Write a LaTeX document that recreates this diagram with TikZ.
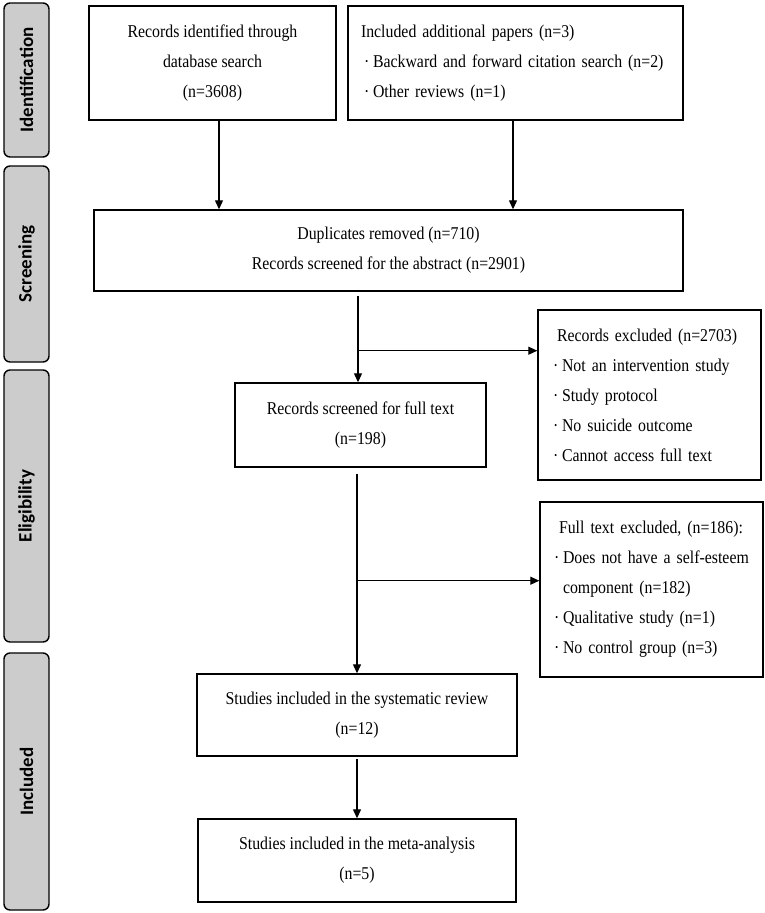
\documentclass[tikz,border=0pt]{standalone}
\usepackage{fontspec}
\setmainfont{Liberation Serif}[FakeStretch=0.88]
\newfontfamily\lblfont{Carlito}
\usetikzlibrary{arrows.meta,calc}
\newcommand\bul{\makebox[9pt][l]{·}}
\begin{document}
\begin{tikzpicture}[x=1pt,y=-1pt,
  box/.style={draw, line width=1.4pt, inner sep=0pt, font=\fontsize{18}{30}\selectfont, align=center},
  lbox/.style={box, align=left},
  side/.style={draw, line width=1.4pt, rounded corners=6pt, fill=black!20, minimum height=45pt, inner sep=0pt, rotate=90, font=\lblfont\bfseries\fontsize{19}{22}\selectfont},
  arr/.style={line width=1.2pt, -{Triangle[length=9pt,width=8pt]}}]
\useasboundingbox (0,0) rectangle (765,913);

% side labels
\node[side, minimum width=154pt] (sid) at (26.5,80) {Identification};
\node[side, minimum width=196pt] (ssc) at (26.5,264) {Screening};
\node[side, minimum width=272pt] (sel) at (26.5,506) {Eligibility};
\node[side, minimum width=257pt] (sin) at (26.5,781.5) {Included};

% boxes
\node[box, minimum width=247pt, minimum height=114pt] (b1) at (212.5,63)
  {Records identified through\\database search\\(n=3608)};
\node[lbox, text width=309pt, minimum width=335pt, minimum height=114pt] (b2) at (515.5,63)
  {\mbox{Included additional papers (n=3)}\\
   \mbox{\hspace{3pt}\bul Backward and forward citation search (n=2)}\\
   \mbox{\hspace{3pt}\bul Other reviews (n=1)}};
\node[box, minimum width=589pt, minimum height=81pt] (b3) at (388.5,250.5)
  {Duplicates removed (n=710)\\Records screened for the abstract (n=2901)};
\node[box, minimum width=251pt, minimum height=84pt] (b4) at (360.5,425)
  {Records screened for full text\\(n=198)};
\node[lbox, text width=193pt, minimum width=223pt, minimum height=170pt] (b5) at (649.5,395)
  {\mbox{\hspace{4pt}Records excluded (n=2703)}\\
   \mbox{\bul Not an intervention study}\\
   \mbox{\bul Study protocol}\\
   \mbox{\bul No suicide outcome}\\
   \mbox{\bul Cannot access full text}};
\node[lbox, text width=195pt, minimum width=223pt, minimum height=175pt] (b7) at (651.5,589.5)
  {\mbox{\hspace{5pt}Full text excluded, (n=186):}\\
   \mbox{\bul Does not have a self-esteem}\\
   \mbox{\hspace{9pt}component (n=182)}\\
   \mbox{\bul Qualitative study (n=1)}\\
   \mbox{\bul No control group (n=3)}};
\node[box, minimum width=320pt, minimum height=82pt] (b6) at (357,715)
  {Studies included in the systematic review\\(n=12)};
\node[box, minimum width=318pt, minimum height=83pt] (b8) at (357,860.5)
  {Studies included in the meta-analysis\\(n=5)};

% connectors
\draw[arr] ([xshift=6.5pt]b1.south) -- ([xshift=6.5pt]b1.south |- b3.north);
\draw[arr] ([xshift=-2.5pt]b2.south) -- ([xshift=-2.5pt]b2.south |- b3.north);
\draw[arr] ([xshift=-30.5pt,yshift=-4pt]b3.south) -- ([xshift=-30.5pt]b3.south |- b4.north);
\coordinate (j1) at ($(b3.south)+(-30.5,59)$);
\draw[arr] (j1) -- (j1 -| b5.west);
\draw[arr] ($(b4.south -| b6.north)+(0,6)$) -- (b6.north);
\coordinate (j2) at ($(b4.south -| b6.north)+(0,113)$);
\draw[arr] (j2) -- (j2 -| b7.west);
\draw[arr] ($(b6.south)+(0,2)$) -- (b8.north);
\end{tikzpicture}
\end{document}
